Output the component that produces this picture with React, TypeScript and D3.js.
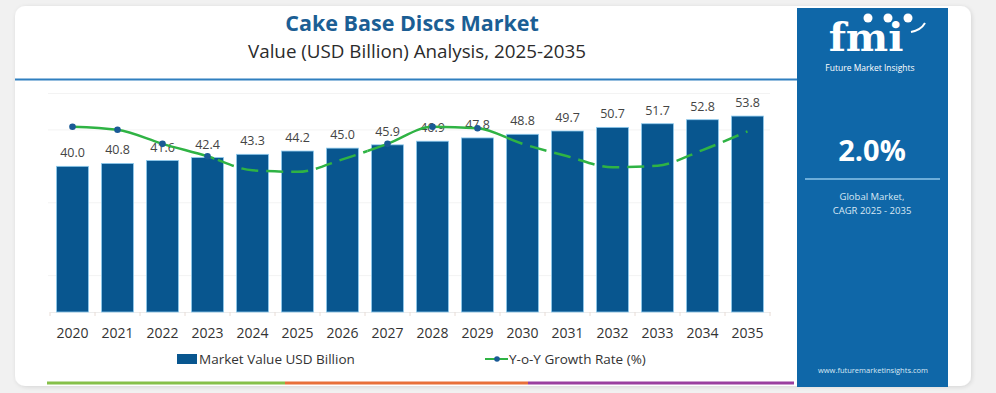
import React, { useEffect, useRef } from "react";
import * as d3 from "d3";

const years = ["2020", "2021", "2022", "2023", "2024", "2025", "2026", "2027", "2028", "2029", "2030", "2031", "2032", "2033", "2034", "2035"];
const marketValue = [40.0, 40.8, 41.6, 42.4, 43.3, 44.2, 45.0, 45.9, 46.9, 47.8, 48.8, 49.7, 50.7, 51.7, 52.8, 53.8];
const growthRate = [2.09, 2.07, 1.98, 1.9, 1.81, 1.8, 1.88, 1.98, 2.09, 2.08, 1.98, 1.9, 1.83, 1.84, 1.94, 2.06];
const gridValues = [10, 30, 50, 60];
// stretches of the growth line drawn solid (in year index units), rest is dashed
const solidRanges = [[-0.1, 3.15], [6.55, 9.65]];

const W = 996;
const H = 393;
const FONT = "'Open Sans', 'Noto Sans', sans-serif";

const App = () => {
  const svgRef = useRef<SVGSVGElement | null>(null);

  useEffect(() => {
    document.body.style.margin = "0";
    const svg = d3.select(svgRef.current);
    svg.selectAll("*").remove();

    const defs = svg.append("defs");
    const shadow = defs.append("filter").attr("id", "cardShadow").attr("x", "-5%").attr("y", "-5%").attr("width", "110%").attr("height", "115%");
    shadow.append("feDropShadow").attr("dx", 1).attr("dy", 1).attr("stdDeviation", 2).attr("flood-color", "#000").attr("flood-opacity", 0.12);

    // page + card
    svg.append("rect").attr("width", W).attr("height", H).attr("fill", "#f1f1f1");
    svg.append("rect").attr("x", 15).attr("y", 6).attr("width", 956).attr("height", 380).attr("rx", 10)
      .attr("fill", "#fff").attr("filter", "url(#cardShadow)");

    // header
    svg.append("text").attr("x", 412).attr("y", 31).attr("text-anchor", "middle")
      .style("font-family", FONT).style("font-size", "21.5px").style("font-weight", 700)
      .attr("fill", "#1b5e94").text("Cake Base Discs Market");
    svg.append("text").attr("x", 417).attr("y", 58).attr("text-anchor", "middle")
      .style("font-family", FONT).style("font-size", "18.8px")
      .attr("fill", "#2b2b2b").text("Value (USD Billion) Analysis, 2025-2035");
    svg.append("line").attr("x1", 15).attr("x2", 797).attr("y1", 79.5).attr("y2", 79.5)
      .attr("stroke", "#2f7fbf").attr("stroke-width", 2);

    // scales
    const x = d3.scaleBand().domain(years).range([50, 770]).paddingInner(0.29).paddingOuter(0.145);
    const y = d3.scaleLinear().domain([0, 60]).range([312, 93.5]);
    const yg = d3.scaleLinear().domain([0.9, 2.3]).range([312, 94]);
    const cx = (i: number) => (x(years[0]) as number) + x.bandwidth() / 2 + i * x.step();

    // grid
    svg.append("g").selectAll("line").data(gridValues).join("line")
      .attr("x1", 48).attr("x2", 770)
      .attr("y1", (d) => y(d)).attr("y2", (d) => y(d))
      .attr("stroke", "#f3f3f3").attr("stroke-width", 1);

    // x axis
    const xAxis = d3.axisBottom(x).tickSize(0).tickPadding(0);
    const gx = svg.append("g").attr("transform", `translate(0,${y(0)})`).call(xAxis);
    gx.select(".domain").attr("stroke", "#ececec");
    gx.selectAll(".tick text").attr("y", 0).attr("dy", "26px").attr("fill", "#333")
      .style("font-family", FONT).style("font-size", "14px");
    svg.append("g").selectAll("line").data(d3.range(years.length + 1)).join("line")
      .attr("x1", (i) => 50 + i * x.step()).attr("x2", (i) => 50 + i * x.step())
      .attr("y1", y(0)).attr("y2", y(0) + 4).attr("stroke", "#e8dcd6");

    // bars
    svg.append("g").selectAll("rect").data(marketValue).join("rect")
      .attr("x", (_, i) => x(years[i]) as number)
      .attr("y", (d) => y(d))
      .attr("width", x.bandwidth())
      .attr("height", (d) => y(0) - y(d))
      .attr("fill", "#08568f").attr("stroke", "#8fcbee").attr("stroke-width", 0.8);

    svg.append("g").selectAll("text").data(marketValue).join("text")
      .attr("x", (_, i) => cx(i)).attr("y", (d) => y(d) - 9)
      .attr("text-anchor", "middle").attr("fill", "#444")
      .style("font-family", FONT).style("font-size", "12.5px")
      .text((d) => d.toFixed(1));

    // growth line
    const line = d3.line<number>().x((_, i) => cx(i)).y((d) => yg(d)).curve(d3.curveMonotoneX);
    const clip = defs.append("clipPath").attr("id", "solidClip");
    solidRanges.forEach(([a, b]) => {
      clip.append("rect").attr("x", cx(a)).attr("y", 0).attr("width", cx(b) - cx(a)).attr("height", H);
    });
    const dashMask = defs.append("mask").attr("id", "dashMask");
    dashMask.append("rect").attr("width", W).attr("height", H).attr("fill", "#fff");
    solidRanges.forEach(([a, b]) => {
      dashMask.append("rect").attr("x", cx(a)).attr("y", 0).attr("width", cx(b) - cx(a)).attr("height", H).attr("fill", "#000");
    });
    svg.append("path").datum(growthRate).attr("d", line).attr("fill", "none")
      .attr("stroke", "#2fb344").attr("stroke-width", 2.5).attr("stroke-dasharray", "17 8")
      .attr("mask", "url(#dashMask)");
    svg.append("path").datum(growthRate).attr("d", line).attr("fill", "none")
      .attr("stroke", "#2fb344").attr("stroke-width", 2.5).attr("clip-path", "url(#solidClip)");
    const dotIdx = growthRate.map((_, i) => i).filter((i) => solidRanges.some(([a, b]) => i >= a && i <= b));
    svg.append("g").selectAll("circle").data(dotIdx).join("circle")
      .attr("cx", (i) => cx(i)).attr("cy", (i) => yg(growthRate[i])).attr("r", 3.3).attr("fill", "#1a5a96");

    // legend
    const lg = svg.append("g").style("font-family", FONT).style("font-size", "13.5px").attr("fill", "#333");
    lg.append("rect").attr("x", 177).attr("y", 354).attr("width", 20).attr("height", 10).attr("fill", "#08568f");
    lg.append("text").attr("x", 199).attr("y", 364).text("Market Value USD Billion");
    lg.append("line").attr("x1", 485).attr("x2", 508).attr("y1", 359).attr("y2", 359).attr("stroke", "#2fb344").attr("stroke-width", 2);
    lg.append("circle").attr("cx", 497).attr("cy", 359).attr("r", 2.8).attr("fill", "#1a5a96");
    lg.append("text").attr("x", 509).attr("y", 364).text("Y-o-Y Growth Rate (%)");

    // bottom colour strip
    const strips = [[47, 285, "#86c04a"], [285, 528, "#e8703a"], [528, 794, "#9a3f9f"]] as const;
    svg.append("g").selectAll("rect").data(strips).join("rect")
      .attr("x", (d) => d[0]).attr("y", 381.5).attr("width", (d) => d[1] - d[0]).attr("height", 3)
      .attr("fill", (d) => d[2]);

    // right panel
    const p = svg.append("g");
    p.append("rect").attr("x", 797).attr("y", 8).attr("width", 151).attr("height", 379).attr("fill", "#0f67a8");
    p.append("text").attr("x", 866).attr("y", 51).attr("text-anchor", "middle")
      .style("font-family", "'DejaVu Serif', serif").style("font-size", "40px").style("font-weight", 700)
      .attr("fill", "#fff").text("fmi");
    [[868, 18], [888, 18], [908, 18]].forEach(([ccx, ccy]) => {
      p.append("circle").attr("cx", ccx).attr("cy", ccy).attr("r", 4.5).attr("fill", "#fff");
    });
    p.append("path").attr("d", "M911 32 Q 921 30 925 23").attr("fill", "none").attr("stroke", "#fff").attr("stroke-width", 2);
    p.append("text").attr("x", 870).attr("y", 71).attr("text-anchor", "middle")
      .style("font-family", FONT).style("font-size", "8.5px").attr("fill", "#fff").text("Future Market Insights");
    p.append("text").attr("x", 872).attr("y", 161).attr("text-anchor", "middle")
      .style("font-family", FONT).style("font-size", "29px").style("font-weight", 700)
      .attr("fill", "#fff").text("2.0%");
    p.append("line").attr("x1", 805).attr("x2", 940).attr("y1", 179).attr("y2", 179).attr("stroke", "#8cc4ea").attr("stroke-width", 1.5);
    p.append("text").attr("x", 872).attr("y", 200).attr("text-anchor", "middle")
      .style("font-family", FONT).style("font-size", "9.5px").attr("fill", "#d9e8f4").text("Global Market,");
    p.append("text").attr("x", 872).attr("y", 214).attr("text-anchor", "middle")
      .style("font-family", FONT).style("font-size", "9.5px").attr("fill", "#d9e8f4").text("CAGR 2025 - 2035");
    p.append("text").attr("x", 873).attr("y", 373).attr("text-anchor", "middle")
      .style("font-family", FONT).style("font-size", "7.5px").attr("fill", "#d9e8f4").text("www.futuremarketinsights.com");
  }, []);

  return (
    <svg ref={svgRef} width={W} height={H} style={{ position: "absolute", left: 0, top: 0, display: "block" }} />
  );
};

export default App;
